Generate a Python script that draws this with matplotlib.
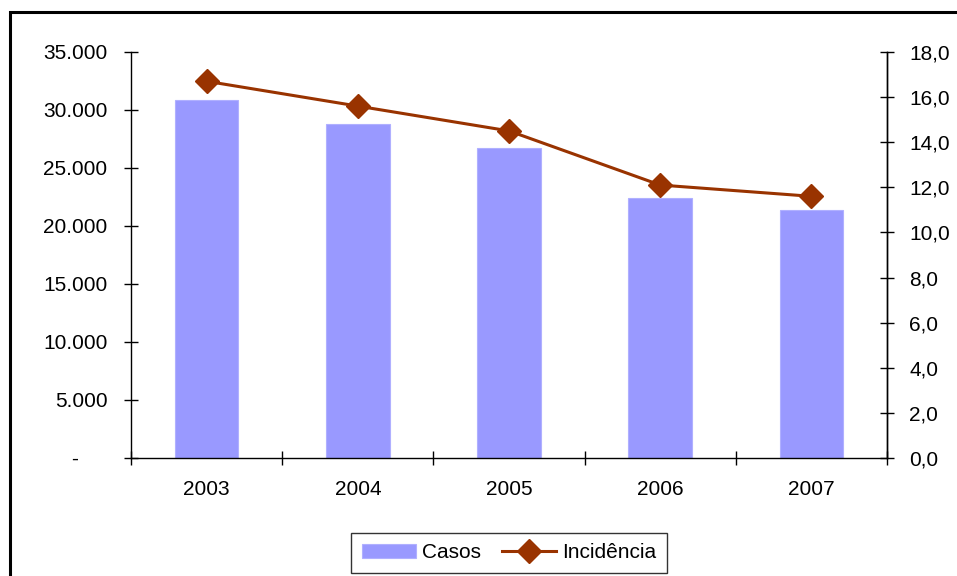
import matplotlib.pyplot as plt
from matplotlib.patches import Rectangle
from matplotlib.ticker import FixedLocator, FuncFormatter

plt.rcParams['font.family'] = ['Liberation Sans', 'DejaVu Sans']
plt.rcParams['font.size'] = 15

anos = ['2003', '2004', '2005', '2006', '2007']
casos = [30900, 28800, 26700, 22400, 21400]
incidencia = [16.7, 15.6, 14.5, 12.1, 11.6]

fig = plt.figure(figsize=(9.57, 5.76), dpi=100)
ax = fig.add_axes([0.1369, 0.2049, 0.79, 0.7049])
ax2 = ax.twinx()

x = list(range(len(anos)))
barras = ax.bar(x, casos, width=0.42, color='#9999ff', edgecolor='#b0b0ff',
                linewidth=0.8, label='Casos', zorder=2)
linha, = ax2.plot(x, incidencia, color='#993300', linewidth=2.2, marker='D',
                  markersize=12, label='Incidência', zorder=3)

ax.set_xlim(-0.5, len(anos) - 0.5)
ax.set_ylim(0, 35000)
ax2.set_ylim(0, 18)

# category boundaries get the tick marks, names sit in between
ax.xaxis.set_major_locator(FixedLocator([i - 0.5 for i in range(len(anos) + 1)]))
ax.xaxis.set_major_formatter(FuncFormatter(lambda v, p: ''))
ax.xaxis.set_minor_locator(FixedLocator(x))
ax.set_xticklabels(anos, minor=True)
ax.tick_params(axis='x', which='minor', length=0, pad=16)
ax.tick_params(axis='x', which='major', direction='inout', length=10, width=1)

ax.set_yticks(range(0, 35001, 5000))
ax.yaxis.set_major_formatter(FuncFormatter(
    lambda v, p: '-     ' if v == 0 else f'{v:,.0f}'.replace(',', '.')))
ax.tick_params(axis='y', direction='inout', length=10, width=1, pad=12)

ax2.set_yticks([i * 2 for i in range(10)])
ax2.yaxis.set_major_formatter(FuncFormatter(lambda v, p: f'{v:.1f}'.replace('.', ',')))
ax2.tick_params(axis='y', direction='inout', length=10, width=1, pad=11)

for a in (ax, ax2):
    a.spines['top'].set_visible(False)
    for s in a.spines.values():
        s.set_linewidth(1)
ax2.spines['bottom'].set_visible(False)
ax2.spines['left'].set_visible(False)

leg = fig.legend(handles=[barras, linha], labels=['Casos', 'Incidência'],
                 loc='upper center', bbox_to_anchor=(0.532, 0.0747), ncol=2,
                 frameon=True, fancybox=False, edgecolor='black',
                 handlelength=2.6, handletextpad=0.3, columnspacing=1.0,
                 borderpad=0.5, borderaxespad=0)
leg.get_frame().set_linewidth(1)

# outer chart frame
fig.patches.append(Rectangle((10 / 957, -0.2), 2, 1.2 - 12 / 576, fill=False,
                             edgecolor='black', linewidth=2.2,
                             transform=fig.transFigure, figure=fig))

fig.savefig('out.png', dpi=100)
